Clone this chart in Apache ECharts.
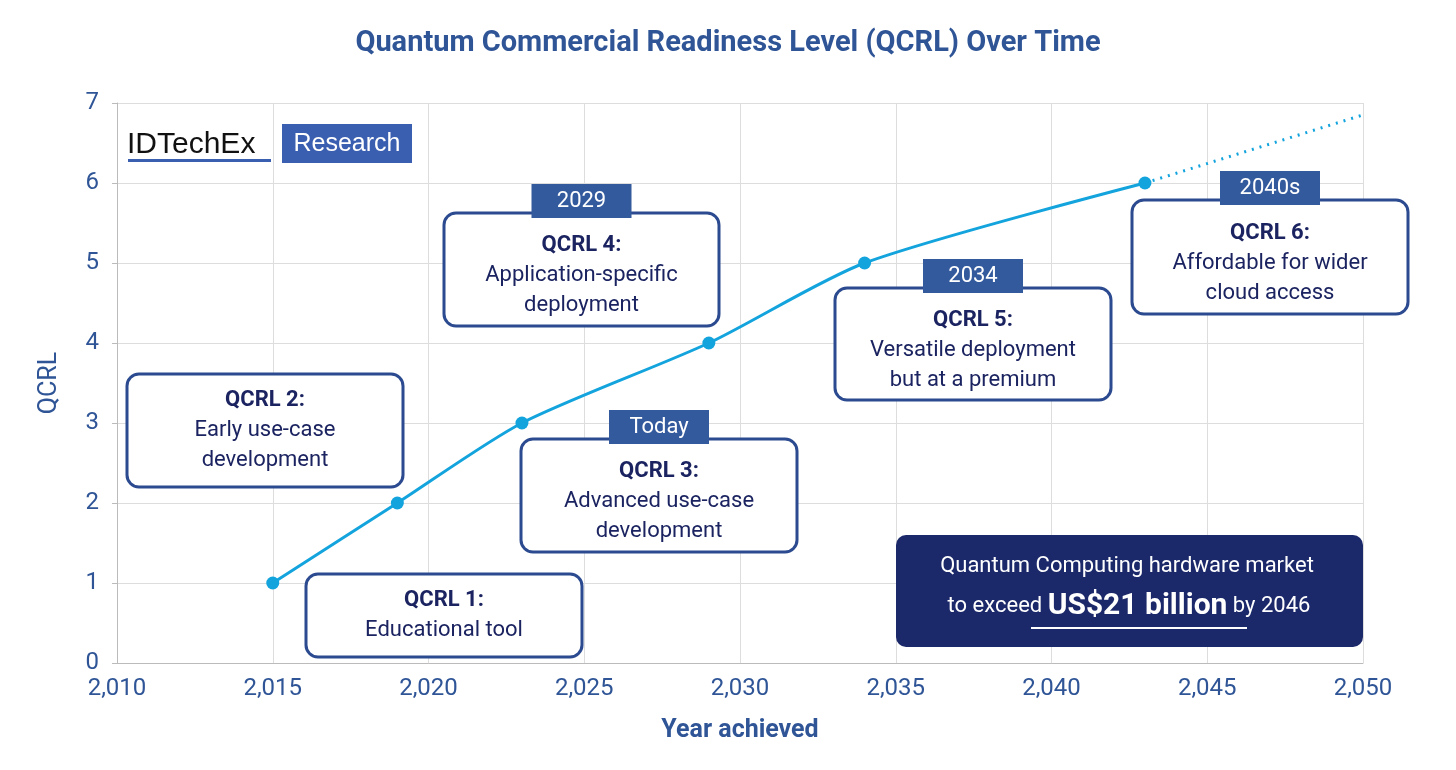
<!DOCTYPE html>
<html><head><meta charset="utf-8">
<script src="https://cdn.jsdelivr.net/npm/echarts@6/dist/echarts.min.js"></script>
<style>html,body{margin:0;background:#fff}#c{width:1456px;height:770px}</style>
</head><body><div id="c"></div>
<script>
const years = [2015, 2019, 2023, 2029, 2034, 2043];
const qcrl = [1, 2, 3, 4, 5, 6];
const projYears = [2043, 2050.4];
const projQcrl = [6, 6.9];
const boxes = [
  {tag:null, title:'QCRL 2:', lines:['Early use-case','development'], x:127,y:374,w:276,h:113},
  {tag:null, title:'QCRL 1:', lines:['Educational tool'], x:306,y:574,w:276,h:83},
  {tag:'Today', title:'QCRL 3:', lines:['Advanced use-case','development'], x:521,y:439,w:276,h:113},
  {tag:'2029', title:'QCRL 4:', lines:['Application-specific','deployment'], x:444,y:213,w:275,h:113},
  {tag:'2034', title:'QCRL 5:', lines:['Versatile deployment','but at a premium'], x:835,y:288,w:276,h:112},
  {tag:'2040s', title:'QCRL 6:', lines:['Affordable for wider','cloud access'], x:1132,y:200,w:276,h:114}
];
const blue='#2f5597', dark='#1b2460', line='#14a4dd', border='#2b4a8f';
const g=[];
boxes.forEach(b=>{
  g.push({type:'rect',shape:{x:b.x,y:b.y,width:b.w,height:b.h,r:12},style:{fill:'#fff',stroke:border,lineWidth:3},z:10});
  const cx=b.x+b.w/2;
  const n=b.lines.length+1;
  const start=b.y+b.h/2-(n-1)*15+ (b.tag?6:0);
  g.push({type:'text',x:cx,y:start,style:{text:b.title,fill:dark,font:'bold 22px Roboto',align:'center',verticalAlign:'middle'},z:11});
  b.lines.forEach((l,i)=>g.push({type:'text',x:cx,y:start+30*(i+1),style:{text:l,fill:dark,font:'22px Roboto',align:'center',verticalAlign:'middle'},z:11}));
  if(b.tag){
    g.push({type:'rect',shape:{x:cx-50,y:b.y-29,width:100,height:34},style:{fill:'#345a9e'},z:12});
    g.push({type:'text',x:cx,y:b.y-12,style:{text:b.tag,fill:'#fff',font:'22px Roboto',align:'center',verticalAlign:'middle'},z:13});
  }
});
g.push({type:'rect',shape:{x:896,y:535,width:467,height:112,r:10},style:{fill:'#1b2869'},z:10});
g.push({type:'text',x:1127,y:566,style:{text:'Quantum Computing hardware market',fill:'#fff',font:'22px Roboto',align:'center',verticalAlign:'middle'},z:11});
g.push({type:'text',x:1129,y:606,style:{text:'{a|to exceed }{b|US$21 billion}{a| by 2046}',fill:'#fff',align:'center',verticalAlign:'middle',
  rich:{a:{fill:'#fff',font:'22px Roboto'},b:{fill:'#fff',font:'bold 30px Roboto'}}},z:11});
g.push({type:'line',shape:{x1:1031,y1:628,x2:1247,y2:628},style:{stroke:'#fff',lineWidth:2},z:11});
// logo
g.push({type:'text',x:127,y:145,style:{text:'IDTechEx',fill:'#111',font:'30px Liberation Sans',verticalAlign:'middle'},z:11});
g.push({type:'rect',shape:{x:128,y:159,width:143,height:3},style:{fill:'#3b5fb0'},z:11});
g.push({type:'rect',shape:{x:282,y:124,width:130,height:39},style:{fill:'#3b5fb0'},z:11});
g.push({type:'text',x:347,y:144,style:{text:'Research',fill:'#fff',font:'25px Liberation Sans',align:'center',verticalAlign:'middle'},z:12});

const chart=echarts.init(document.getElementById('c'));
chart.setOption({
  title:{text:'Quantum Commercial Readiness Level (QCRL) Over Time',left:'center',top:24,textStyle:{color:blue,fontSize:29,fontWeight:'bold',fontFamily:'Roboto'}},
  grid:{left:117,right:93,top:103,bottom:107},
  xAxis:{type:'value',min:2010,max:2050,interval:5,name:'Year achieved',nameLocation:'middle',nameGap:55,
    nameTextStyle:{color:blue,fontSize:25,fontWeight:'bold',fontFamily:'Roboto'},
    axisLabel:{color:blue,fontSize:24,margin:14,fontFamily:'Roboto'},axisLine:{lineStyle:{color:'#bbb'}},axisTick:{show:false},
    splitLine:{show:true,lineStyle:{color:'#ddd'}}},
  yAxis:{type:'value',min:0,max:7,interval:1,name:'QCRL',nameLocation:'middle',nameGap:55,
    nameTextStyle:{color:blue,fontSize:25,fontFamily:'Roboto'},
    axisLabel:{color:blue,fontSize:24,margin:18,fontFamily:'Roboto'},axisLine:{show:true,lineStyle:{color:'#bbb'}},
    splitLine:{lineStyle:{color:'#ddd'}}},
  series:[
    {type:'line',data:projYears.map((x,i)=>[x,projQcrl[i]]),symbol:'none',lineStyle:{color:line,width:3,type:[2,6]},z:3},
    {type:'line',data:years.map((x,i)=>[x,qcrl[i]]),smooth:0.25,symbol:'circle',symbolSize:13,
      itemStyle:{color:line},lineStyle:{color:line,width:3},z:4}
  ],
  graphic:g
});
</script></body></html>
